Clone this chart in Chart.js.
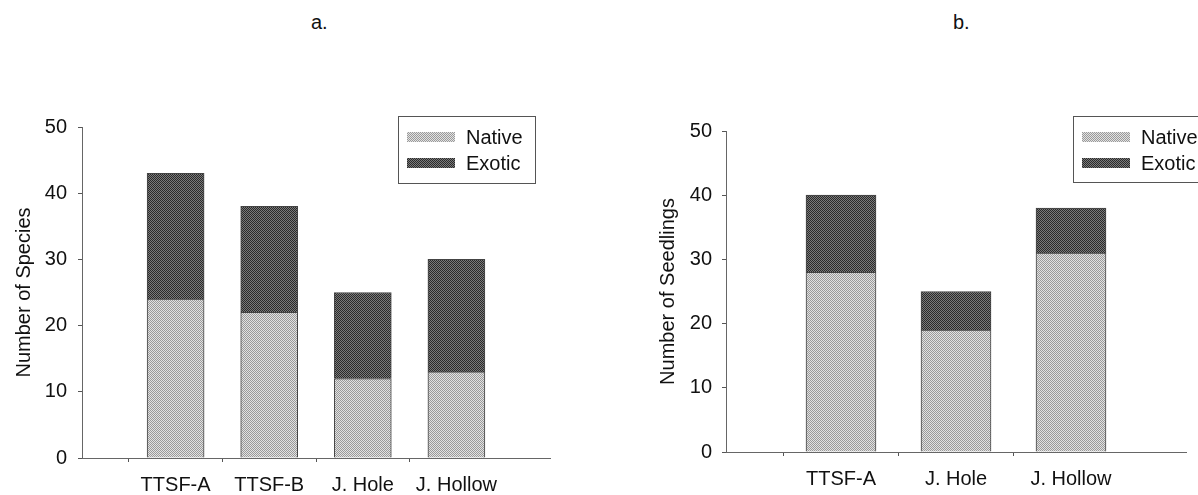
<!DOCTYPE html>
<html>
<head>
<meta charset="utf-8">
<script src="https://cdn.jsdelivr.net/npm/chart.js@4.4.1/dist/chart.umd.min.js"></script>
<style>
  body { margin: 0; background: #fff; width: 1198px; height: 495px; overflow: hidden; position: relative; font-family: "Liberation Sans", Arial, sans-serif; }
  .panel-title { position: absolute; top: 12px; font-size: 20px; line-height: 20px; color: #111; }
  canvas { position: absolute; top: 0; }
</style>
</head>
<body>
<div class="panel-title" style="left:311px">a.</div>
<div class="panel-title" style="left:953px">b.</div>
<canvas id="chartA" width="600" height="495" style="left:0"></canvas>
<canvas id="chartB" width="558" height="495" style="left:640px"></canvas>
<script>
// panel a: number of species
const sitesA = ["TTSF-A", "TTSF-B", "J. Hole", "J. Hollow"];
const nativeA = [24, 22, 12, 13];
const exoticA = [19, 16, 13, 17];

// panel b: number of seedlings
const sitesB = ["TTSF-A", "J. Hole", "J. Hollow"];
const nativeB = [28, 19, 31];
const exoticB = [12, 6, 7];

const yTicks = [0, 10, 20, 30, 40, 50];

const FONT = "'Liberation Sans', Arial, sans-serif";

function dither(c1, c2){
    const pc = document.createElement("canvas");
    pc.width = 2; pc.height = 2;
    const px = pc.getContext("2d");
    px.fillStyle = c1; px.fillRect(0, 0, 2, 2);
    px.fillStyle = c2; px.fillRect(0, 0, 1, 1); px.fillRect(1, 1, 1, 1);
    return px.createPattern(pc, "repeat");
}
const nativeFill = dither("#e2e2e2", "#9a9a9a");
const exoticFill = dither("#7a7a7a", "#2a2a2a");

// pad categories with an empty slot at each end so bars sit on tick marks
function padded(arr, blank){ return [blank].concat(arr, [blank]); }

function boxLegend(box){
    return {
        id: "boxLegend",
        afterDraw(chart){
            const ctx = chart.ctx;
            ctx.save();
            ctx.fillStyle = "#fff";
            ctx.fillRect(box.x, box.y, box.w, box.h);
            ctx.strokeStyle = "#555";
            ctx.lineWidth = 1;
            ctx.strokeRect(box.x + 0.5, box.y + 0.5, box.w, box.h);
            const rows = [["Native", nativeFill, 21], ["Exotic", exoticFill, 47]];
            ctx.font = "20px " + FONT;
            ctx.textBaseline = "middle";
            rows.forEach(r => {
                const cy = box.y + r[2];
                ctx.fillStyle = r[1];
                ctx.fillRect(box.x + 9, cy - 5, 48, 10);
                ctx.fillStyle = "#111";
                ctx.fillText(r[0], box.x + 68, cy + 1);
            });
            ctx.restore();
        }
    };
}

function makeChart(id, sites, nat, exo, opts){
    const labels = padded(sites, "");
    const n = labels.length;
    return new Chart(document.getElementById(id), {
        type: "bar",
        data: {
            labels: labels,
            datasets: [
                { label: "Native", data: padded(nat, null), backgroundColor: nativeFill,
                  borderColor: "#444", borderWidth: 1, barThickness: opts.barW },
                { label: "Exotic", data: padded(exo, null), backgroundColor: exoticFill,
                  borderColor: "#444", borderWidth: 1, barThickness: opts.barW }
            ]
        },
        options: {
            responsive: false,
            animation: false,
            devicePixelRatio: 1,
            layout: { padding: { left: 0, top: opts.top, right: opts.right, bottom: 0 } },
            plugins: { legend: { display: false }, tooltip: { enabled: false } },
            scales: {
                x: {
                    stacked: true,
                    offset: false,
                    afterFit: s => { s.height = opts.xH; },
                    grid: {
                        drawOnChartArea: false, tickLength: 4,
                        tickColor: c => (c.index === 0 || c.index === n - 1) ? "rgba(0,0,0,0)" : "#555"
                    },
                    border: { color: "#666", width: 1 },
                    ticks: { color: "#111", font: { family: FONT, size: 20 }, padding: 11, maxRotation: 0, autoSkip: false }
                },
                y: {
                    stacked: true,
                    min: yTicks[0], max: yTicks[yTicks.length - 1],
                    afterFit: s => { s.width = opts.yW; },
                    afterBuildTicks: s => { s.ticks = yTicks.map(v => ({ value: v })); },
                    grid: { drawOnChartArea: false, tickLength: 4, tickColor: "#555" },
                    border: { color: "#666", width: 1 },
                    ticks: { color: "#111", font: { family: FONT, size: 20 }, padding: opts.tickPad },
                    title: { display: true, text: opts.yTitle, color: "#111",
                             font: { family: FONT, size: 20 }, padding: { top: opts.titlePad, bottom: 0 } }
                }
            }
        },
        plugins: [boxLegend(opts.legend)]
    });
}

makeChart("chartA", sitesA, nativeA, exoticA, {
    barW: 57, top: 127, right: 50, xH: 37, yW: 82, tickPad: 11, titlePad: 12,
    yTitle: "Number of Species",
    legend: { x: 398, y: 116, w: 137, h: 67 }
});

makeChart("chartB", sitesB, nativeB, exoticB, {
    barW: 70, top: 131, right: 12, xH: 43, yW: 86, tickPad: 10, titlePad: 16,
    yTitle: "Number of Seedlings",
    legend: { x: 433, y: 116, w: 160, h: 66 }
});
</script>
</body>
</html>
